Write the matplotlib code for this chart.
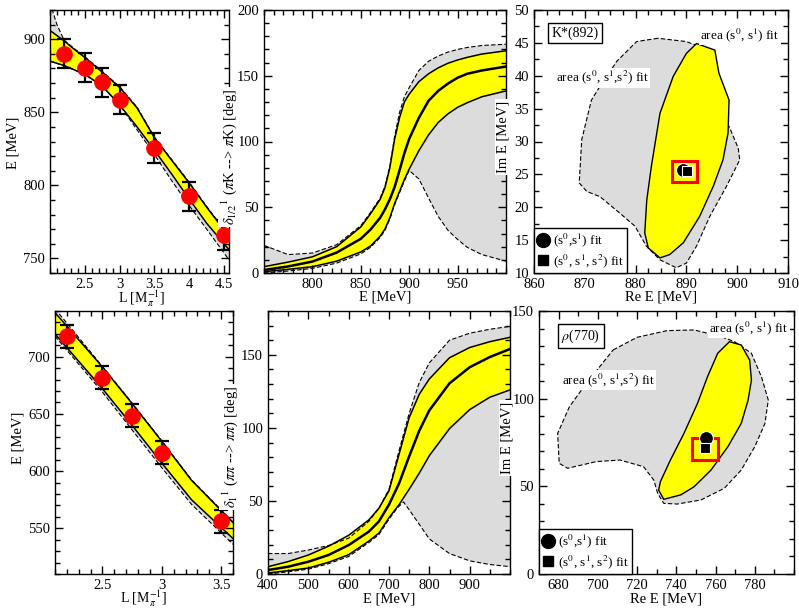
import numpy as np
import matplotlib
matplotlib.use('Agg')
import matplotlib.pyplot as plt
from matplotlib.ticker import MultipleLocator, FixedLocator
from matplotlib.lines import Line2D
from matplotlib.patches import Rectangle

plt.rcParams['font.family'] = ['Liberation Serif', 'DejaVu Serif']
plt.rcParams['mathtext.fontset'] = 'stix'
plt.rcParams['font.size'] = 10.5

YELLOW = '#ffff00'
GRAY = '#dcdcdc'

# ---- K*(892): lattice energies vs box size ----
kst_L = [2.2, 2.5, 2.75, 3.0, 3.5, 4.0, 4.5]
kst_E = [890, 880.5, 870.5, 858.5, 825.5, 792.5, 766]
kst_err = [10, 10, 10, 10, 10, 10, 10]

kst_band_L = [2.0, 2.1, 2.2, 2.35, 2.5, 2.75, 3.0, 3.25, 3.5, 3.75, 4.0, 4.25, 4.57]
kst_band_up = [906, 902.5, 899, 893, 887.5, 877.5, 867, 853, 832.5, 817, 801.5, 785, 765]
kst_band_lo = [885, 883.5, 882, 879, 876, 868, 855, 840, 824, 807.5, 790.5, 774, 756]
kst_gray_up = [925, 910, 899.5, 893.5, 888, 878, 867.5, 853.5, 833, 817.5, 802, 785.5, 765.5]
kst_gray_lo = [885, 883.5, 882, 879, 876, 868, 855, 838, 821, 803, 786, 770, 749]

# ---- K*(892): phase shift ----
kst_ps_E = [750, 775, 800, 825, 850, 860, 870, 875, 880, 885, 890, 895, 900,
            910, 920, 930, 940, 950, 960, 975, 1000]
kst_ps_mid = [2.3, 5, 8.7, 15.5, 26, 33, 42, 48.5, 56, 65.5, 78, 91, 102,
              118, 131, 138.5, 144, 148.5, 151.5, 154, 157]
kst_ps_up = [4.8, 8.3, 12.3, 20, 35, 45, 56, 65, 80, 102, 118, 130, 136,
             145.5, 151.5, 156, 159.5, 162, 164, 166.5, 169]
kst_ps_lo = [1, 2.8, 4.8, 9, 16, 20.5, 28, 33.5, 42, 53, 62, 71, 79,
             93, 105, 114.5, 121, 126, 129.5, 134, 138.5]
kst_ps_gray_up = [21, 14, 15.2, 21.5, 36, 46, 57, 66, 81, 104, 122, 134, 141,
                  154, 161, 165, 168, 170, 171.5, 173, 174]
kst_ps_gray_lo = [0, 1.5, 3.5, 7.5, 14.5, 19.5, 27, 32.5, 41, 52, 61, 70, 78,
                  71.5, 57, 43, 32.5, 25.5, 19.5, 14, 9]

# ---- K*(892): pole position regions ----
kst_pole_fit1_re = [892.0, 895.6, 896.4, 898.4, 898.2, 897.2, 895.3, 892.6, 889.4,
                    886.7, 884.8, 882.5, 881.8, 882.2, 883.1, 884.8, 887.4, 890.0]
kst_pole_fit1_im = [44.9, 43.9, 40.4, 36.3, 31.3, 27.2, 23.2, 18.6, 14.6,
                    12.8, 12.3, 13.8, 16.1, 21.1, 26.2, 34.3, 39.9, 43.4]
kst_pole_fit2_re = [884.4, 880.2, 876.3, 873.0, 871.3, 869.4, 868.9, 870.4, 873.0,
                    876.9, 879.9, 882.1, 884.8, 888.0, 890.0, 892.0, 894.6, 897.9,
                    900.5, 900.2, 898.4, 897.0, 896.0, 893.0, 891.3, 890.0]
kst_pole_fit2_im = [45.7, 45.2, 42.2, 38.4, 36.3, 30.3, 23.7, 22.4, 21.6,
                    19.1, 17.1, 14.1, 12.0, 10.8, 11.5, 14.1, 18.6, 23.2,
                    27.2, 29.0, 32.3, 33.0, 40.0, 44.5, 44.8, 45.2]
kst_pole1 = (889.4, 25.7)
kst_pole2 = (890.2, 25.5)
kst_box = (887.1, 23.8, 892.0, 27.1)

# ---- rho(770): lattice energies vs box size ----
rho_L = [2.2, 2.5, 2.75, 3.0, 3.5]
rho_E = [718, 681.5, 648.5, 616, 556]
rho_err = [10, 10, 10, 10, 10]

rho_band_L = [2.1, 2.5, 2.75, 3.0, 3.25, 3.6]
rho_band_up = [738.6, 691, 659, 626, 592, 555]
rho_band_lo = [720, 672, 640, 607, 575, 541]
rho_gray_up = [742, 691.5, 659.5, 626.5, 592.5, 555.5]
rho_gray_lo = [718, 669, 636, 603, 571, 536]

# ---- rho(770): phase shift ----
rho_ps_E = [400, 450, 500, 550, 600, 650, 675, 700, 725, 750, 775, 800, 850, 900, 950, 1000]
rho_ps_mid = [2.7, 5, 8.4, 13, 19.8, 29, 36, 47.5, 62, 80.5, 98, 112, 130.5, 141.5, 148.5, 154]
rho_ps_up = [5, 8.5, 13, 19, 26.5, 37, 45, 57, 82, 107, 123, 133.5, 148, 155, 159, 162]
rho_ps_lo = [0.7, 2.3, 4.1, 8, 13.2, 22.5, 28, 38.5, 47.5, 58, 69, 81, 99.5, 112.5, 121, 126]
rho_ps_gray_up = [14, 14, 16.4, 19.5, 24.5, 36, 45, 58, 84.5, 110, 131, 144.5, 160, 164.8, 167.5, 169.5]
rho_ps_gray_lo_E = [400, 450, 500, 550, 600, 650, 675, 700, 720, 736, 750, 765, 780,
                    800, 850, 900, 950, 1000]
rho_ps_gray_lo = [0, 1.5, 3.3, 7, 12, 21.5, 27, 37.5, 45, 49.3, 44, 38, 32,
                  24, 14, 9, 6.5, 5]

# ---- rho(770): pole position regions ----
rho_pole_fit1_re = [767.1, 773.1, 777.4, 778.3, 776.6, 773.1, 766.3, 757.7, 749.1,
                    742.2, 733.6, 731.0, 731.9, 737.0, 743.9, 750.8, 755.9, 761.1]
rho_pole_fit1_im = [132.5, 130.6, 122, 110.6, 99.2, 85.9, 72.6, 59.3, 49.8,
                    45.1, 42.6, 47.9, 52.7, 65.0, 80.2, 97.3, 112.5, 125.9]
rho_pole_fit2_re = [707.8, 720, 735.3, 749.1, 762.8, 769.7, 778.3, 783.4, 786.9,
                    785.2, 780.0, 773.1, 764.5, 752.5, 740.5, 733.6, 730.5, 728.5,
                    723.3, 711.3, 699.2, 684.6, 680.3, 679.5, 685.5, 694.1]
rho_pole_fit2_im = [127.8, 135, 138.8, 139.2, 135.4, 132.5, 125.9, 112.5, 99.2,
                    85.9, 72.6, 59.3, 48.9, 42.2, 39.9, 40.3, 46.0, 53.6,
                    61.2, 65.0, 64.1, 60.3, 63.1, 80.2, 95.4, 108.7]
rho_pole1 = (755.1, 77.4)
rho_pole2 = (754.6, 71.7)
rho_box = (748.2, 65.0, 761.1, 77.8)

W, H = 799, 609


def box(l, t, r, b):
    return [l / W, 1 - b / H, (r - l) / W, (b - t) / H]


def label(fig, x, y, s, rot=0, white=False, size=10.5):
    bb = dict(facecolor='white', edgecolor='none', pad=1.0) if white else None
    fig.text(x / W, 1 - y / H, s, rotation=rot, ha='center', va='center',
             fontsize=size, bbox=bb)


def setup(ax, xlim, ylim, xticks, xlabels, xminor, yticks, ylabels, yminor):
    ax.set_xlim(*xlim)
    ax.set_ylim(*ylim)
    ax.xaxis.set_major_locator(FixedLocator(xticks))
    ax.set_xticklabels(xlabels)
    ax.xaxis.set_minor_locator(MultipleLocator(xminor))
    ax.yaxis.set_major_locator(FixedLocator(yticks))
    ax.set_yticklabels(ylabels)
    ax.yaxis.set_minor_locator(MultipleLocator(yminor))
    ax.tick_params(which='both', direction='in', top=True, right=True,
                   labelsize=10.5, width=1.0)
    ax.tick_params(which='major', length=6)
    ax.tick_params(which='minor', length=3.5)
    for s in ax.spines.values():
        s.set_linewidth(1.0)


def band(ax, x, up, lo, color, dashed, x_lo=None):
    if x_lo is None:
        x_lo = x
    px = np.concatenate([x, x_lo[::-1]])
    py = np.concatenate([up, lo[::-1]])
    ax.fill(px, py, color=color, lw=0)
    ls = (0, (4, 2)) if dashed else '-'
    ax.plot(x, up, color='black', lw=0.8 if dashed else 1.1, ls=ls)
    ax.plot(x_lo, lo, color='black', lw=0.8 if dashed else 1.1, ls=ls)


def lattice_panel(ax, L, E, err, bL, gup, glo, yup, ylo):
    bL = np.array(bL)
    band(ax, bL, np.array(gup), np.array(glo), GRAY, True)
    band(ax, bL, np.array(yup), np.array(ylo), YELLOW, False)
    ax.errorbar(L, E, yerr=err, fmt='none', ecolor='black', elinewidth=1.6,
                capsize=5, capthick=1.6, zorder=4)
    ax.plot(L, E, 'o', color='red', markersize=11, zorder=5)


def phase_panel(ax, E, mid, up, lo, gup, glo, glo_E=None):
    E = np.array(E)
    gE = E if glo_E is None else np.array(glo_E)
    ax.fill(np.concatenate([E, gE[::-1]]),
            np.concatenate([gup, np.array(glo)[::-1]]), color=GRAY, lw=0)
    ax.plot(E, gup, color='black', lw=0.8, ls=(0, (4, 2)))
    ax.plot(gE, glo, color='black', lw=0.8, ls=(0, (4, 2)))
    band(ax, E, np.array(up), np.array(lo), YELLOW, False)
    ax.plot(E, mid, color='black', lw=1.8)


def pole_panel(ax, re1, im1, re2, im2, p1, p2, rect, name, name_xy,
               lab1_xy, lab2_xy):
    ax.fill(re2, im2, facecolor=GRAY, edgecolor='black', lw=0.8,
            ls=(0, (4, 2)))
    ax.fill(re1, im1, facecolor=YELLOW, edgecolor='black', lw=1.0)
    x0, y0, x1, y1 = rect
    ax.add_patch(Rectangle((x0, y0), x1 - x0, y1 - y0, fill=False,
                           edgecolor='red', lw=2.2, zorder=4))
    ax.plot(*p1, 'o', color='black', markersize=10, mec='white', mew=0.8, zorder=5)
    ax.plot(*p2, 's', color='black', markersize=7, mec='white', mew=0.8, zorder=6)
    ax.text(*name_xy, name, ha='center', va='center', fontsize=10, zorder=7,
            bbox=dict(facecolor='white', edgecolor='black', pad=2.5, lw=1.0))
    ax.text(*lab1_xy, r'area (s$^0$, s$^1$) fit', ha='center', va='center',
            fontsize=9.5, zorder=7,
            bbox=dict(facecolor='white', edgecolor='none', pad=1))
    ax.text(*lab2_xy, r'area (s$^0$, s$^1$,s$^2$) fit', ha='center', va='center',
            fontsize=9.5, zorder=7,
            bbox=dict(facecolor='white', edgecolor='none', pad=1))
    handles = [Line2D([], [], marker='o', color='black', ls='none', markersize=10),
               Line2D([], [], marker='s', color='black', ls='none', markersize=6.5)]
    leg = ax.legend(handles, [r'(s$^0$,s$^1$) fit', r'(s$^0$, s$^1$, s$^2$) fit'],
                    loc='lower left', borderaxespad=0, fancybox=False,
                    edgecolor='black', framealpha=1, fontsize=9.5,
                    handlelength=0.8, handletextpad=0.4, borderpad=0.25,
                    labelspacing=0.25)
    leg.get_frame().set_linewidth(1.0)
    leg.set_zorder(8)


fig = plt.figure(figsize=(W / 100, H / 100), dpi=100)

# top row: K*(892)
ax1 = fig.add_axes(box(50, 10, 229, 273))
lattice_panel(ax1, kst_L, kst_E, kst_err, kst_band_L, kst_gray_up, kst_gray_lo,
              kst_band_up, kst_band_lo)
setup(ax1, (2.0, 4.57), (740, 920), [2.5, 3, 3.5, 4, 4.5],
      ['2.5', '3', '3.5', '4', '4.5'], 0.1,
      [750, 800, 850, 900], ['750', '800', '850', '900'], 10)

ax2 = fig.add_axes(box(264, 10, 506, 273))
phase_panel(ax2, kst_ps_E, kst_ps_mid, kst_ps_up, kst_ps_lo,
            kst_ps_gray_up, kst_ps_gray_lo)
setup(ax2, (750, 1000), (0, 200), [800, 850, 900, 950],
      ['800', '850', '900', '950'], 10,
      [0, 50, 100, 150, 200], ['0', '50', '100', '150', '200'], 10)

ax3 = fig.add_axes(box(534, 10, 788, 273))
pole_panel(ax3, kst_pole_fit1_re, kst_pole_fit1_im, kst_pole_fit2_re,
           kst_pole_fit2_im, kst_pole1, kst_pole2, kst_box, 'K*(892)',
           (868.1, 46.5), (900.5, 46.2), (873.4, 39.7))
setup(ax3, (860, 910), (10, 50), [860, 870, 880, 890, 900, 910],
      ['860', '870', '880', '890', '900', '910'], 2.5,
      list(range(10, 51, 5)), [str(v) for v in range(10, 51, 5)], 2.5)

# bottom row: rho(770)
ax4 = fig.add_axes(box(55, 311, 233, 574))
lattice_panel(ax4, rho_L, rho_E, rho_err, rho_band_L, rho_gray_up, rho_gray_lo,
              rho_band_up, rho_band_lo)
setup(ax4, (2.1, 3.6), (510, 740), [2.5, 3, 3.5], ['2.5', '3', '3.5'], 0.1,
      [550, 600, 650, 700], ['550', '600', '650', '700'], 10)

ax5 = fig.add_axes(box(268, 311, 510, 574))
phase_panel(ax5, rho_ps_E, rho_ps_mid, rho_ps_up, rho_ps_lo,
            rho_ps_gray_up, rho_ps_gray_lo, rho_ps_gray_lo_E)
setup(ax5, (400, 1000), (0, 180), [400, 500, 600, 700, 800, 900],
      ['400', '500', '600', '700', '800', '900'], 50,
      [0, 50, 100, 150], ['0', '50', '100', '150'], 10)

ax6 = fig.add_axes(box(539, 311, 794, 574))
pole_panel(ax6, rho_pole_fit1_re, rho_pole_fit1_im, rho_pole_fit2_re,
           rho_pole_fit2_im, rho_pole1, rho_pole2, rho_box, r'$\rho$(770)',
           (691.4, 135.7), (777.0, 140.3), (705.2, 110.6))
setup(ax6, (670, 800), (0, 150), [680, 700, 720, 740, 760, 780],
      ['680', '700', '720', '740', '760', '780'], 10,
      [0, 50, 100, 150], ['0', '50', '100', '150'], 10)

# axis titles
label(fig, 141, 299, r'L [M$_{\pi}^{-1}$]', size=10)
label(fig, 385, 297, 'E [MeV]')
label(fig, 661, 297, 'Re E [MeV]')
label(fig, 143, 599, r'L [M$_{\pi}^{-1}$]', size=10)
label(fig, 389, 599, 'E [MeV]')
label(fig, 666, 599, 'Re E [MeV]')
label(fig, 13, 143, 'E [MeV]', 90)
label(fig, 229, 157, r'$\delta_{1/2}{}^{1}$ ($\pi$K --> $\pi$K) [deg]', 90, True)
label(fig, 503, 137, 'Im E [MeV]', 90, True)
label(fig, 18, 438, 'E [MeV]', 90)
label(fig, 230, 447, r'$\delta_{1}{}^{1}$ ($\pi\pi$ --> $\pi\pi$) [deg]', 90, True)
label(fig, 507, 438, 'Im E [MeV]', 90, True)

fig.savefig('out.png', dpi=100, facecolor='white')
